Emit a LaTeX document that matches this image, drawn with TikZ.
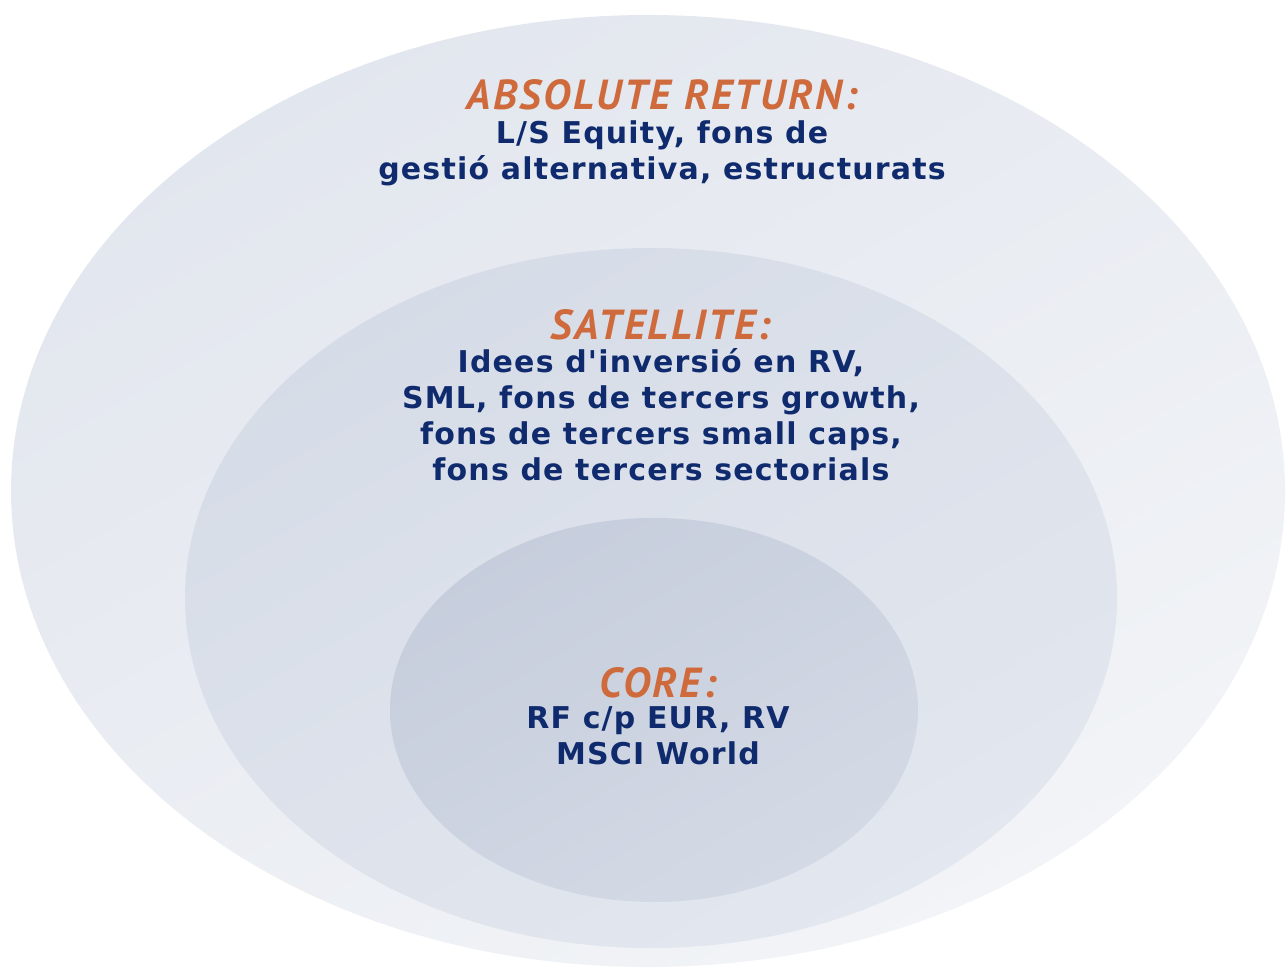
\documentclass[tikz,border=0pt]{standalone}
\usepackage{fontspec}
\newfontfamily\bodyfont{DejaVu Sans}[LetterSpace=4]
\newfontfamily\titlefont{PT Sans}[LetterSpace=6]
\usetikzlibrary{positioning}

\definecolor{titleorange}{HTML}{CF6A3C}
\definecolor{textnavy}{HTML}{0F2B6E}
\definecolor{outertop}{HTML}{E2E6EE}
\definecolor{outerbot}{HTML}{F2F4F7}
\definecolor{midtop}{HTML}{D6DCE7}
\definecolor{midbot}{HTML}{E3E7EF}
\definecolor{coretop}{HTML}{C6CDDC}
\definecolor{corebot}{HTML}{D4DAE5}

\begin{document}
\begin{tikzpicture}[x=1pt, y=-1pt,
  layertitle/.style={text=titleorange, inner sep=0pt,
    font=\titlefont\bfseries\itshape\fontsize{42}{46}\selectfont},
  layerbody/.style={text=textnavy, align=center, inner sep=0pt,
    font=\bodyfont\bfseries\fontsize{30}{36}\selectfont}]
  \useasboundingbox (0,0) rectangle (1288,968);

  % nested layers
  \shade[top color=outertop, bottom color=outerbot, shading angle=30] (648,491) ellipse [x radius=637, y radius=476];
  \shade[top color=midtop, bottom color=midbot, shading angle=30] (651,598) ellipse [x radius=466, y radius=350];
  \shade[top color=coretop, bottom color=corebot, shading angle=30] (654,710) ellipse [x radius=264, y radius=192];

  % labels
  \node[layertitle, anchor=base] (abstitle) at (662,110) {ABSOLUTE RETURN:};
  \node[layerbody, below=10pt of abstitle] (absbody) {L/S Equity, fons de\\gestió alternativa, estructurats};

  \node[layertitle, anchor=base] (sattitle) at (661,340) {SATELLITE:};
  \node[layerbody, below=8pt of sattitle] (satbody) {Idees d'inversió en RV,\\SML, fons de tercers growth,\\fons de tercers small caps,\\fons de tercers sectorials};

  \node[layertitle, anchor=base] (coretitle) at (658,697) {CORE:};
  \node[layerbody, below=9pt of coretitle] (corebody) {RF c/p EUR, RV\\MSCI World};
\end{tikzpicture}
\end{document}
